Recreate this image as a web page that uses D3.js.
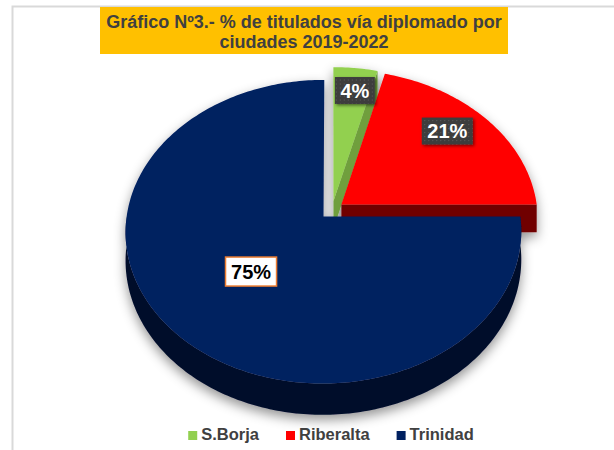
<!DOCTYPE html>
<html>
<head>
<meta charset="utf-8">
<script src="https://cdn.jsdelivr.net/npm/d3@7"></script>
<style>
  body { margin: 0; background: #fff; }
  svg { display: block; font-family: "Liberation Sans", Arial, sans-serif; }
</style>
</head>
<body>
<svg id="chart" width="614" height="450"></svg>
<script>
'use strict';

var categories = ["S.Borja", "Riberalta", "Trinidad"];
var values = [4, 21, 75];
var titleLines = ["Gráfico Nº3.- % de titulados vía diplomado por", "ciudades 2019-2022"];

var topColor = d3.scaleOrdinal().domain(categories).range(["#92D050", "#FF0000", "#002060"]);
var sideColor = d3.scaleOrdinal().domain(categories).range(["#6f9f3d", "#700000", "#000c2c"]);

var svg = d3.select("#chart");

// frame
svg.append("path")
  .attr("d", "M12.5,450V6.5H614")
  .attr("fill", "none")
  .attr("stroke", "#d9d9d9")
  .attr("stroke-width", 2);

// title
svg.append("rect")
  .attr("x", 100).attr("y", 7).attr("width", 408).attr("height", 47)
  .attr("fill", "#FFC000");

svg.selectAll("text.title")
  .data(titleLines)
  .enter().append("text")
  .attr("class", "title")
  .attr("x", 304)
  .attr("y", function(d, i) { return 28 + i * 20; })
  .attr("text-anchor", "middle")
  .attr("font-size", 18)
  .attr("font-weight", "bold")
  .attr("fill", "#404040")
  .text(function(d) { return d; });

// filters and pattern
var defs = svg.append("defs");
defs.append("filter").attr("id", "pieShadow")
  .attr("x", "-20%").attr("y", "-20%").attr("width", "140%").attr("height", "140%")
  .append("feDropShadow")
  .attr("dx", 0).attr("dy", 5).attr("stdDeviation", 6)
  .attr("flood-color", "#000").attr("flood-opacity", 0.42);

defs.append("filter").attr("id", "boxShadow")
  .attr("x", "-30%").attr("y", "-30%").attr("width", "160%").attr("height", "160%")
  .append("feDropShadow")
  .attr("dx", 1.5).attr("dy", 1.5).attr("stdDeviation", 1.5)
  .attr("flood-color", "#000").attr("flood-opacity", 0.5);

var pat = defs.append("pattern").attr("id", "dots")
  .attr("width", 4).attr("height", 4).attr("patternUnits", "userSpaceOnUse");
pat.append("rect").attr("width", 4).attr("height", 4).attr("fill", "#3d3d3d");
pat.append("rect").attr("x", 1).attr("y", 1).attr("width", 1).attr("height", 1).attr("fill", "#5c5c5c");

// 3D pie geometry
var cx = 332, cy = 210, R = 196, Ry = 149, depth = 28, persp = 0.1, explode = 0.061;
// label anchor per slice: [radius fraction, fraction of the slice's angle]
var labelAnchor = [[0.82, 0.58], [0.775, 0.44], [0.5, 0.5]];

var x = d3.scaleLinear().domain([-1, 1]).range([cx - R, cx + R]);
var y = d3.scaleLinear().domain([-1, 1]).range([cy - Ry, cy + Ry]);

function project(u, v, t) {
  var s = 1 / (1 - persp * v);
  return [x(u * s), y(v * s) + depth * t * s];
}

var total = d3.sum(values);
var fmt = d3.format(".0%");
var arcs = d3.pie().sort(null).value(function(d) { return d; })(values);

arcs.forEach(function(d, i) {
  var mid = (d.startAngle + d.endAngle) / 2;
  d.name = categories[i];
  d.ou = explode * Math.sin(mid);
  d.ov = -explode * Math.cos(mid);
  d.pt = function(a, r, t) {
    return project(d.ou + r * Math.sin(a), d.ov - r * Math.cos(a), t);
  };
  var la = d.startAngle + (d.endAngle - d.startAngle) * labelAnchor[i][1];
  d.labelPos = d.pt(la, labelAnchor[i][0], 0);
});

var line = d3.line().curve(d3.curveLinearClosed);

function arcPoints(d, a0, a1, t) {
  var n = Math.max(2, Math.ceil((a1 - a0) / (Math.PI / 180)));
  return d3.range(n + 1).map(function(k) { return d.pt(a0 + (a1 - a0) * k / n, 1, t); });
}

var pie = svg.append("g").attr("filter", "url(#pieShadow)");

// far slices first
var order = arcs.slice().sort(function(a, b) { return a.ov - b.ov; });

order.forEach(function(d) {
  var g = pie.append("g");
  var a0 = d.startAngle, a1 = d.endAngle;

  // outer curved side (front half only)
  var s0 = Math.max(a0, Math.PI / 2), s1 = Math.min(a1, 3 * Math.PI / 2);
  if (s1 > s0) {
    var pts = arcPoints(d, s0, s1, 0).concat(arcPoints(d, s0, s1, 1).reverse());
    g.append("path").attr("d", line(pts)).attr("fill", sideColor(d.name));
  }

  // radial cut faces facing the viewer
  [[a0, Math.sin(a0) < -1e-6], [a1, Math.sin(a1) > 1e-6]].forEach(function(f) {
    if (!f[1]) return;
    var a = f[0];
    g.append("path")
      .attr("d", line([d.pt(a, 0, 0), d.pt(a, 1, 0), d.pt(a, 1, 1), d.pt(a, 0, 1)]))
      .attr("fill", sideColor(d.name));
  });

  // top face
  g.append("path")
    .attr("d", line([d.pt(0, 0, 0)].concat(arcPoints(d, a0, a1, 0))))
    .attr("fill", topColor(d.name));
});

// data labels
arcs.forEach(function(d, i) {
  var g = svg.append("g").attr("transform", "translate(" + d.labelPos[0] + "," + d.labelPos[1] + ")");
  var big = i === arcs.length - 1;
  var box = g.append("rect");
  var t = g.append("text")
    .attr("text-anchor", "middle")
    .attr("dy", "0.35em")
    .attr("font-size", 20)
    .attr("font-weight", "bold")
    .attr("fill", big ? "#000" : "#fff")
    .text(fmt(d.value / total));
  var w = t.node().getComputedTextLength() + 11, h = big ? 29 : 27;
  box.attr("x", -w / 2).attr("y", -h / 2).attr("width", w).attr("height", h);
  if (big) {
    box.attr("fill", "#fff").attr("stroke", "#ED7D31").attr("stroke-width", 1.5);
  } else {
    box.attr("fill", "url(#dots)").attr("filter", "url(#boxShadow)");
  }
});

// legend
var legend = svg.append("g");
var items = legend.selectAll("g").data(categories).enter().append("g");
items.append("rect")
  .attr("width", 9).attr("height", 9).attr("y", -9)
  .attr("fill", function(d) { return topColor(d); });
items.append("text")
  .attr("x", 13)
  .attr("y", 0)
  .attr("font-size", 16.5)
  .attr("font-weight", "bold")
  .attr("fill", "#404040")
  .text(function(d) { return d; });

var xPos = 0;
items.each(function() {
  var el = d3.select(this);
  var w = 13 + el.select("text").node().getComputedTextLength();
  el.attr("transform", "translate(" + xPos + ",0)");
  xPos += w + 27;
});
var legendWidth = xPos - 27;
legend.attr("transform", "translate(" + (331 - legendWidth / 2) + ",440)");
</script>
</body>
</html>
